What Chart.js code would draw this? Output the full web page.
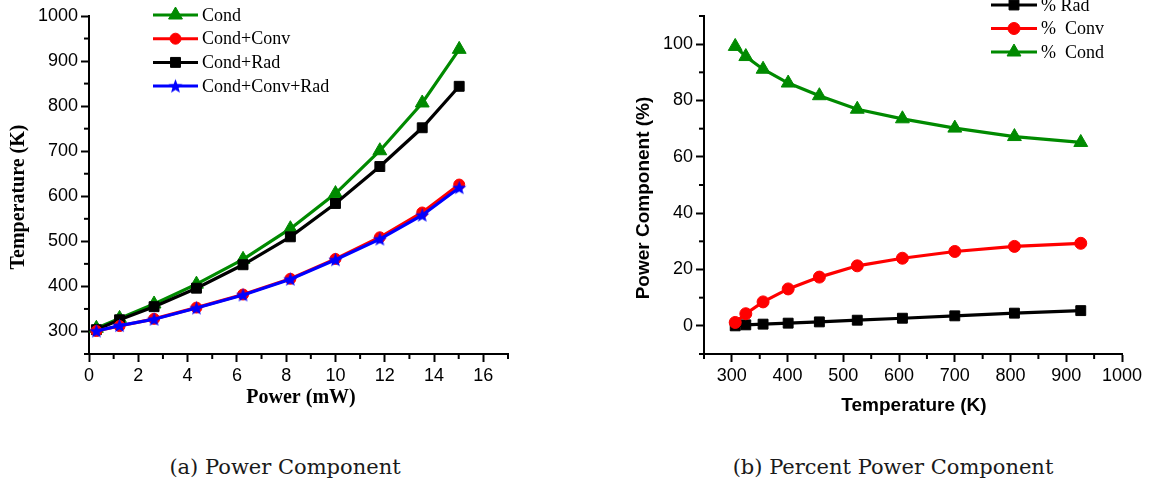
<!DOCTYPE html>
<html>
<head>
<meta charset="utf-8">
<script src="https://cdn.jsdelivr.net/npm/chart.js@4.4.0/dist/chart.umd.min.js"></script>
<style>
  html, body { margin: 0; padding: 0; background: #fff; }
  #page { position: relative; width: 1159px; height: 485px; overflow: hidden; background: #fff; }
  canvas { position: absolute; top: 0; }
  #cA { left: 0; }
  #cB { left: 600px; }
  .cap {
    position: absolute; top: 457px;
    font-family: 'DejaVu Serif', serif; font-size: 21px; line-height: 21px;
    color: #1a1a1a; white-space: nowrap; transform: translateX(-50%);
  }
</style>
</head>
<body>
<div id="page">
  <canvas id="cA" width="600" height="430"></canvas>
  <canvas id="cB" width="559" height="430"></canvas>
  <div class="cap" style="left:285px">(a) Power Component</div>
  <div class="cap" style="left:893px">(b) Percent Power Component</div>
</div>
<script>
// ---- (a) steady-state temperature vs. input power, per heat-loss model ----
const powerMW      = [0.3, 1.24, 2.64, 4.36, 6.25, 8.17, 10.0, 11.8, 13.52, 15.02];
const tempCond     = [307, 329, 361, 405, 460, 528, 606, 701, 807, 926];
const tempCondConv = [301, 312, 328, 353, 382, 417, 461, 509, 564, 626];
const tempCondRad  = [304, 326, 355, 396, 448, 510, 584, 666, 752, 844];
const tempAll      = [301, 313, 327, 352, 381, 416, 459, 505, 558, 619];
const powerTicks   = [0, 2, 4, 6, 8, 10, 12, 14, 16];
const tempTicks    = [300, 400, 500, 600, 700, 800, 900, 1000];

// ---- (b) share of each loss path vs. temperature ----
const tempK     = [306, 325, 356, 401, 457, 525, 606, 700, 807, 926];
const pctRad    = [0, 0.35, 0.6, 0.95, 1.4, 2.0, 2.7, 3.55, 4.5, 5.4];
const pctConv   = [1.2, 4.3, 8.5, 13.1, 17.3, 21.3, 24.0, 26.4, 28.2, 29.3];
const pctCond   = [99.2, 95.6, 91.1, 86.2, 81.7, 76.9, 73.5, 70.2, 67.2, 65.1];
const kelvinTicks = [300, 400, 500, 600, 700, 800, 900, 1000];
const pctTicks    = [0, 20, 40, 60, 80, 100];

const GREEN = '#008a00', RED = '#ff0000', BLACK = '#000000', BLUE = '#0000ff';

// filled five-point star used as a point style
function makeStar(color, outer, inner) {
  const size = Math.ceil(outer * 2 + 2);
  const c = document.createElement('canvas');
  c.width = size; c.height = size;
  const g = c.getContext('2d');
  g.fillStyle = color;
  g.beginPath();
  for (let i = 0; i < 10; i++) {
    const r = i % 2 === 0 ? outer : inner;
    const a = -Math.PI / 2 + i * Math.PI / 5;
    const x = size / 2 + r * Math.cos(a), y = size / 2 + 0.5 + r * Math.sin(a);
    if (i === 0) g.moveTo(x, y); else g.lineTo(x, y);
  }
  g.closePath();
  g.fill();
  return c;
}
const blueStar = makeStar(BLUE, 7.5, 3.2);

function pts(xs, ys) { return xs.map((x, i) => ({ x: x, y: ys[i] })); }

function series(label, xs, ys, color, style, radius, order) {
  return {
    label: label, data: pts(xs, ys), order: order,
    borderColor: color, backgroundColor: color,
    borderWidth: 3.2, tension: 0,
    pointStyle: style, pointRadius: radius, pointHoverRadius: radius,
    pointBackgroundColor: color, pointBorderColor: color, pointBorderWidth: 1
  };
}

// marker for legend rows (same shapes as the chart points)
function drawMarker(ctx, style, r, color, x, y) {
  ctx.save();
  ctx.fillStyle = color;
  ctx.strokeStyle = color;
  ctx.lineWidth = 1;
  if (style instanceof HTMLCanvasElement) {
    ctx.drawImage(style, x - style.width / 2, y - style.height / 2);
  } else if (style === 'circle') {
    ctx.beginPath(); ctx.arc(x, y, r, 0, Math.PI * 2); ctx.fill(); ctx.stroke();
  } else if (style === 'rect') {
    const s = r * Math.SQRT1_2;
    ctx.beginPath(); ctx.rect(x - s, y - s, 2 * s, 2 * s); ctx.fill(); ctx.stroke();
  } else if (style === 'triangle') {
    ctx.beginPath();
    let a = 0;
    ctx.moveTo(x + Math.sin(a) * r, y - Math.cos(a) * r);
    a += 2 * Math.PI / 3;
    ctx.lineTo(x + Math.sin(a) * r, y - Math.cos(a) * r);
    a += 2 * Math.PI / 3;
    ctx.lineTo(x + Math.sin(a) * r, y - Math.cos(a) * r);
    ctx.closePath(); ctx.fill(); ctx.stroke();
  }
  ctx.restore();
}

// legend, axis titles and minor ticks
const decor = {
  id: 'decor',
  afterDraw(chart, args, opts) {
    const ctx = chart.ctx;
    const area = chart.chartArea;

    // minor ticks halfway between the major ones
    ctx.save();
    ctx.strokeStyle = '#000';
    ctx.lineWidth = 2;
    ['x', 'y'].forEach(id => {
      const sc = chart.scales[id];
      const majors = sc.ticks.map(t => t.value);
      const half = (majors[1] - majors[0]) / 2;
      const start = majors[0] - half * Math.floor((majors[0] - sc.min) / half + 1e-9);
      for (let v = start; v <= sc.max + 1e-9; v += half) {
        if (majors.some(m => Math.abs(m - v) < 1e-9)) continue;
        const p = sc.getPixelForValue(v);
        ctx.beginPath();
        if (id === 'x') { ctx.moveTo(p, area.bottom); ctx.lineTo(p, area.bottom + 5); }
        else { ctx.moveTo(area.left, p); ctx.lineTo(area.left - 5, p); }
        ctx.stroke();
      }
    });
    ctx.restore();

    // axis titles
    ctx.save();
    ctx.fillStyle = '#000';
    ctx.textAlign = 'center';
    ctx.textBaseline = 'middle';
    ctx.font = opts.titleFont;
    ctx.fillText(opts.xTitle, opts.xTitlePos[0], opts.xTitlePos[1]);
    ctx.translate(opts.yTitlePos[0], opts.yTitlePos[1]);
    ctx.rotate(-Math.PI / 2);
    ctx.font = opts.yTitleFont || opts.titleFont;
    ctx.fillText(opts.yTitle, 0, 0);
    ctx.restore();

    // legend
    const lg = opts.legend;
    ctx.save();
    ctx.font = lg.font;
    ctx.textAlign = 'left';
    ctx.textBaseline = 'middle';
    lg.rows.forEach((di, i) => {
      const ds = chart.data.datasets[di];
      const y = lg.y0 + i * lg.dy;
      ctx.strokeStyle = ds.borderColor;
      ctx.lineWidth = 3;
      ctx.beginPath();
      ctx.moveTo(lg.x0, y); ctx.lineTo(lg.x1, y);
      ctx.stroke();
      drawMarker(ctx, ds.pointStyle, ds.pointRadius, ds.borderColor, (lg.x0 + lg.x1) / 2, y);
      ctx.fillStyle = '#000';
      ctx.fillText(ds.label, lg.x1 + 4, y + 1);
    });
    ctx.restore();
  }
};

function axis(min, max, ticks, fixed, isX) {
  return {
    type: 'linear', min: min, max: max,
    afterBuildTicks: s => { s.ticks = ticks.map(v => ({ value: v })); },
    afterFit: s => { if (isX) s.height = fixed; else s.width = fixed; },
    grid: { display: true, drawOnChartArea: false, drawTicks: true,
            tickLength: 8, tickWidth: 2, tickColor: '#000' },
    border: { display: true, color: '#000', width: 2 },
    ticks: { color: '#000', padding: 3, font: { family: 'Liberation Sans', size: 18 },
             callback: v => String(v) },
    title: { display: false }
  };
}

Chart.defaults.font.family = 'Liberation Sans';

new Chart(document.getElementById('cA'), {
  type: 'line',
  data: {
    datasets: [
      series('Cond', powerMW, tempCond, GREEN, 'triangle', 8, 3),
      series('Cond+Conv', powerMW, tempCondConv, RED, 'circle', 5.5, 1),
      series('Cond+Rad', powerMW, tempCondRad, BLACK, 'rect', 7, 2),
      series('Cond+Conv+Rad', powerMW, tempAll, BLUE, blueStar, 6, 0)
    ]
  },
  options: {
    responsive: false, animation: false, events: [],
    layout: { padding: { left: 0, top: 16, right: 92, bottom: 0 } },
    scales: {
      x: axis(0, 17, powerTicks, 76, true),
      y: axis(250, 1000, tempTicks, 89, false)
    },
    plugins: {
      legend: { display: false }, tooltip: { enabled: false },
      decor: {
        titleFont: 'bold 20px "Liberation Serif"',
        xTitle: 'Power (mW)', xTitlePos: [301, 398],
        yTitle: 'Temperature (K)', yTitlePos: [19, 197],
        legend: { font: '18px "Liberation Serif"', x0: 153, x1: 198, y0: 15, dy: 23.7,
                  rows: [0, 1, 2, 3] }
      }
    }
  },
  plugins: [decor]
});

new Chart(document.getElementById('cB'), {
  type: 'line',
  data: {
    datasets: [
      series('% Rad', tempK, pctRad, BLACK, 'rect', 7, 2),
      series('%  Conv', tempK, pctConv, RED, 'circle', 6, 1),
      series('%  Cond', tempK, pctCond, GREEN, 'triangle', 8, 3)
    ]
  },
  options: {
    responsive: false, animation: false, events: [],
    layout: { padding: { left: 0, top: 16, right: 37, bottom: 0 } },
    scales: {
      x: axis(250, 1000, kelvinTicks, 76, true),
      y: axis(-10, 110, pctTicks, 104, false)
    },
    plugins: {
      legend: { display: false }, tooltip: { enabled: false },
      decor: {
        titleFont: 'bold 19px "Liberation Sans"',
        xTitle: 'Temperature (K)', xTitlePos: [314, 406],
        yTitle: 'Power Component (%)', yTitlePos: [44, 198],
        legend: { font: '18px "Liberation Serif"', x0: 391, x1: 437, y0: 5, dy: 23.5,
                  rows: [0, 1, 2] }
      }
    }
  },
  plugins: [decor]
});
</script>
</body>
</html>
